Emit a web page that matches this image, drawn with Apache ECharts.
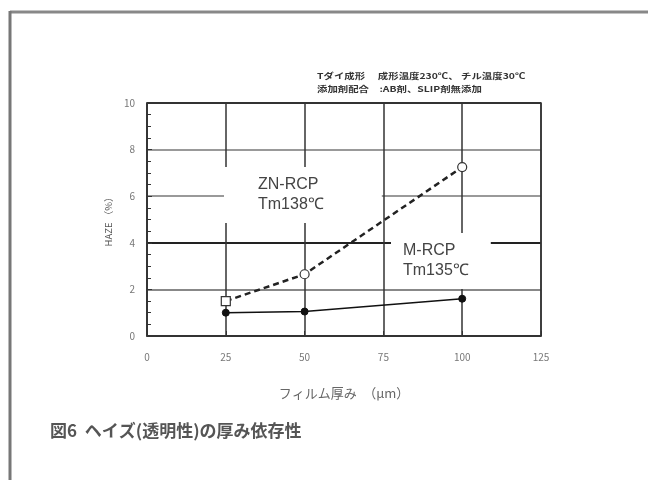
<!DOCTYPE html>
<html>
<head>
<meta charset="utf-8">
<script src="https://cdn.jsdelivr.net/npm/echarts@6/dist/echarts.min.js"></script>
<style>
  html, body { margin: 0; padding: 0; background: #fff; }
  #chart { width: 648px; height: 480px; }
</style>
</head>
<body>
<div id="chart"></div>
<script>
// フィルム厚み (μm)
const thickness = [25, 50, 100]
// HAZE (%)
const znRcp = [1.5, 2.65, 7.25]
const mRcp = [1.0, 1.05, 1.6]
const znSymbols = ["rect", "circle", "circle"]

const xTicks = [0, 25, 50, 75, 100, 125]
const yTicks = [0, 2, 4, 6, 8, 10]

const jp = "'Noto Sans CJK JP', 'Noto Sans', sans-serif"

const myChart = echarts.init(document.getElementById("chart"))

const option = {
  backgroundColor: "#fff",
  animation: false,
  grid: {
    left: 147,
    right: 107,
    top: 103,
    bottom: 144,
    show: true,
    borderColor: "#333",
    borderWidth: 1.5,
    z: 3
  },
  xAxis: {
    type: "value",
    min: xTicks[0],
    max: xTicks[xTicks.length - 1],
    interval: 25,
    name: "フィルム厚み　（μm）",
    nameLocation: "middle",
    nameGap: 51,
    nameTextStyle: { fontFamily: jp, fontSize: 13, color: "#666" },
    axisLine: { show: true, lineStyle: { color: "#333", width: 1.5 } },
    axisTick: { show: true, inside: true, length: 5, lineStyle: { color: "#333" } },
    axisLabel: { fontFamily: jp, fontSize: 10, color: "#777", margin: 16 },
    splitLine: { show: true, lineStyle: { color: "#333", width: 1.5 } }
  },
  yAxis: {
    type: "value",
    min: yTicks[0],
    max: yTicks[yTicks.length - 1],
    interval: 2,
    name: "HAZE （%）",
    nameLocation: "middle",
    nameGap: 25,
    nameTextStyle: { fontFamily: jp, fontSize: 9.5, color: "#555" },
    axisLine: { show: true, lineStyle: { color: "#333", width: 1.5 } },
    axisTick: { show: true, inside: true, length: 5, lineStyle: { color: "#333" } },
    minorTick: { show: true, splitNumber: 4, length: 4, lineStyle: { color: "#333" } },
    axisLabel: { fontFamily: jp, fontSize: 10, color: "#777", margin: 12 },
    splitLine: {
      show: true,
      lineStyle: { color: ["#333", "#888", "#222", "#999", "#999", "#333"], width: 2 }
    }
  },
  graphic: [
    // outer frame
    { type: "line", shape: { x1: 10, y1: 12, x2: 648, y2: 12 }, style: { stroke: "#888", lineWidth: 3 } },
    { type: "line", shape: { x1: 10, y1: 11, x2: 10, y2: 480 }, style: { stroke: "#777", lineWidth: 3 } },
    // conditions note
    {
      type: "text", x: 317, y: 69, scaleX: 1.3, z: 10,
      style: {
        text: "Tダイ成形　 成形温度230℃、 チル温度30℃\n添加剤配合　:AB剤、SLIP剤無添加",
        fontFamily: jp, fontSize: 8, fontWeight: "bold", fill: "#333", lineHeight: 13
      }
    },
    // series labels (white box hides grid)
    {
      type: "text", left: 224, top: 167, z: 10,
      style: {
        text: "ZN-RCP\nTm138℃",
        fontFamily: "'Liberation Sans', Arial, sans-serif", fontSize: 16, fill: "#444",
        lineHeight: 20, backgroundColor: "#fff",
        padding: [8, 58, 8, 34]
      }
    },
    {
      type: "text", left: 391, top: 233, z: 10,
      style: {
        text: "M-RCP\nTm135℃",
        fontFamily: "'Liberation Sans', Arial, sans-serif", fontSize: 16, fill: "#444",
        lineHeight: 20, backgroundColor: "#fff",
        padding: [8, 22, 8, 12]
      }
    },
    // caption
    {
      type: "text", left: 50, top: 422, z: 10,
      style: {
        text: "図6  ヘイズ(透明性)の厚み依存性",
        fontFamily: jp, fontSize: 17, fontWeight: "bold", fill: "#555"
      }
    }
  ],
  series: [
    {
      name: "ZN-RCP",
      type: "line",
      z: 20,
      lineStyle: { color: "#222", width: 2.5, type: [6, 4] },
      itemStyle: { color: "#fff", borderColor: "#333", borderWidth: 1.2 },
      symbolSize: 9,
      data: thickness.map((t, i) => ({ value: [t, znRcp[i]], symbol: znSymbols[i] }))
    },
    {
      name: "M-RCP",
      type: "line",
      z: 20,
      symbol: "circle",
      symbolSize: 7,
      lineStyle: { color: "#111", width: 1.5 },
      itemStyle: { color: "#111", borderColor: "#111" },
      data: thickness.map((t, i) => [t, mRcp[i]])
    }
  ]
}

myChart.setOption(option)
</script>
</body>
</html>
